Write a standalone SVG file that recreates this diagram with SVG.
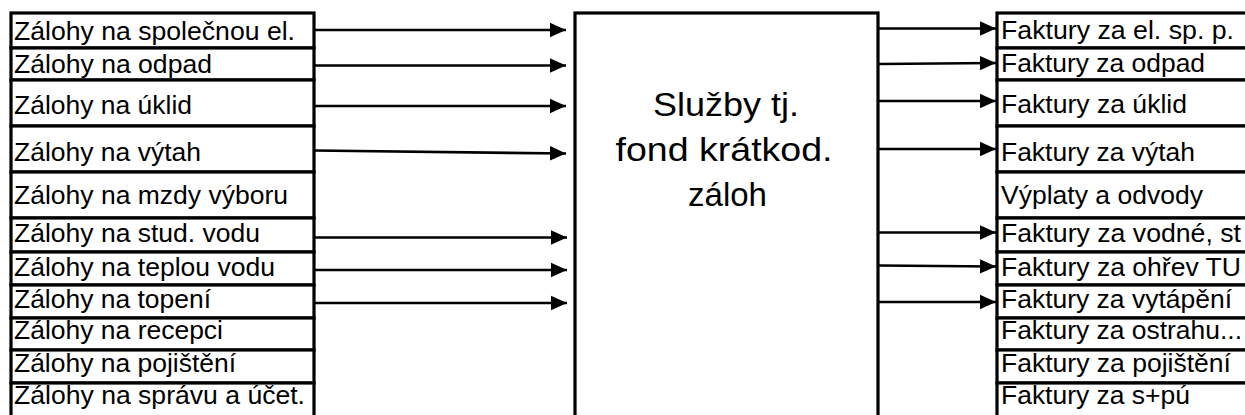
<svg xmlns="http://www.w3.org/2000/svg" width="1245" height="415" viewBox="0 0 1245 415">
<defs>
<style>
.cell{fill:#fff;stroke:#000;stroke-width:3.2}
.t{font-family:"Liberation Sans",Arial,sans-serif;font-size:26px;fill:#000}
.big{font-family:"Liberation Sans",Arial,sans-serif;font-size:34px;fill:#000;text-anchor:middle}
.arr{stroke:#000;stroke-width:2.7;fill:none;marker-end:url(#ah)}
</style>
<marker id="ah" markerUnits="userSpaceOnUse" markerWidth="17" markerHeight="16" viewBox="0 0 17 16" refX="16" refY="8" orient="auto">
<path d="M0,0.8 L16,8 L0,15.2 Z" fill="#000"/>
</marker>
</defs>
<rect width="1245" height="415" fill="#fff"/>
<g id="left">
<g id="l1"><rect class="cell" x="11" y="13" width="303" height="35"/><text class="t" x="14" y="39.5" textLength="281" lengthAdjust="spacingAndGlyphs">Zálohy na společnou el.</text></g>
<g id="l2"><rect class="cell" x="11" y="48" width="303" height="32"/><text class="t" x="14" y="73" textLength="198" lengthAdjust="spacingAndGlyphs">Zálohy na odpad</text></g>
<g id="l3"><rect class="cell" x="11" y="80" width="303" height="46"/><text class="t" x="14" y="113.5" textLength="178" lengthAdjust="spacingAndGlyphs">Zálohy na úklid</text></g>
<g id="l4"><rect class="cell" x="11" y="126" width="303" height="46"/><text class="t" x="14" y="161" textLength="187" lengthAdjust="spacingAndGlyphs">Zálohy na výtah</text></g>
<g id="l5"><rect class="cell" x="11" y="172" width="303" height="46"/><text class="t" x="14" y="203.5" textLength="274" lengthAdjust="spacingAndGlyphs">Zálohy na mzdy výboru</text></g>
<g id="l6"><rect class="cell" x="11" y="218" width="303" height="34"/><text class="t" x="14" y="242" textLength="246" lengthAdjust="spacingAndGlyphs">Zálohy na stud. vodu</text></g>
<g id="l7"><rect class="cell" x="11" y="252" width="303" height="33"/><text class="t" x="14" y="275.5" textLength="261" lengthAdjust="spacingAndGlyphs">Zálohy na teplou vodu</text></g>
<g id="l8"><rect class="cell" x="11" y="285" width="303" height="33"/><text class="t" x="14" y="307.5" textLength="197" lengthAdjust="spacingAndGlyphs">Zálohy na topení</text></g>
<g id="l9"><rect class="cell" x="11" y="318" width="303" height="32"/><text class="t" x="14" y="339" textLength="209" lengthAdjust="spacingAndGlyphs">Zálohy na recepci</text></g>
<g id="l10"><rect class="cell" x="11" y="350" width="303" height="33"/><text class="t" x="14" y="372" textLength="222" lengthAdjust="spacingAndGlyphs">Zálohy na pojištění</text></g>
<g id="l11"><rect class="cell" x="11" y="383" width="303" height="40"/><text class="t" x="14" y="404" textLength="291" lengthAdjust="spacingAndGlyphs">Zálohy na správu a účet.</text></g>
</g>
<g id="center">
<rect class="cell" x="575" y="13" width="303" height="410"/>
<text class="big" x="726" y="116" textLength="146" lengthAdjust="spacingAndGlyphs">Služby tj.</text>
<text class="big" x="724" y="160.5" textLength="217" lengthAdjust="spacingAndGlyphs">fond krátkod.</text>
<text class="big" x="727.5" y="205.5" textLength="79" lengthAdjust="spacingAndGlyphs">záloh</text>
</g>
<g id="right">
<g id="r1"><rect class="cell" x="997" y="13" width="260" height="35"/><text class="t" x="1001" y="38.5" textLength="233" lengthAdjust="spacingAndGlyphs">Faktury za el. sp. p.</text></g>
<g id="r2"><rect class="cell" x="997" y="48" width="260" height="32"/><text class="t" x="1001" y="72" textLength="204" lengthAdjust="spacingAndGlyphs">Faktury za odpad</text></g>
<g id="r3"><rect class="cell" x="997" y="80" width="260" height="46"/><text class="t" x="1001" y="112.5" textLength="186" lengthAdjust="spacingAndGlyphs">Faktury za úklid</text></g>
<g id="r4"><rect class="cell" x="997" y="126" width="260" height="46"/><text class="t" x="1001" y="160.5" textLength="194" lengthAdjust="spacingAndGlyphs">Faktury za výtah</text></g>
<g id="r5"><rect class="cell" x="997" y="172" width="260" height="46"/><text class="t" x="1001" y="203.5" textLength="202" lengthAdjust="spacingAndGlyphs">Výplaty a odvody</text></g>
<g id="r6"><rect class="cell" x="997" y="218" width="260" height="34"/><text class="t" x="1001" y="242" textLength="240" lengthAdjust="spacingAndGlyphs">Faktury za vodné, st</text></g>
<g id="r7"><rect class="cell" x="997" y="252" width="260" height="33"/><text class="t" x="1001" y="275.5" textLength="240" lengthAdjust="spacingAndGlyphs">Faktury za ohřev TU</text></g>
<g id="r8"><rect class="cell" x="997" y="285" width="260" height="33"/><text class="t" x="1001" y="307.5" textLength="231" lengthAdjust="spacingAndGlyphs">Faktury za vytápění</text></g>
<g id="r9"><rect class="cell" x="997" y="318" width="260" height="32"/><text class="t" x="1001" y="339" textLength="241" lengthAdjust="spacingAndGlyphs">Faktury za ostrahu...</text></g>
<g id="r10"><rect class="cell" x="997" y="350" width="260" height="33"/><text class="t" x="1001" y="372" textLength="230" lengthAdjust="spacingAndGlyphs">Faktury za pojištění</text></g>
<g id="r11"><rect class="cell" x="997" y="383" width="260" height="40"/><text class="t" x="1001" y="404" textLength="189" lengthAdjust="spacingAndGlyphs">Faktury za s+pú</text></g>
</g>
<g id="connectors">
<line class="arr" x1="314" y1="30" x2="566" y2="30"/>
<line class="arr" x1="314" y1="65.5" x2="566" y2="65.5"/>
<line class="arr" x1="314" y1="106" x2="566" y2="106"/>
<line class="arr" x1="314" y1="150.5" x2="566" y2="153.5"/>
<line class="arr" x1="314" y1="237.5" x2="567" y2="237.5"/>
<line class="arr" x1="314" y1="270" x2="567" y2="270"/>
<line class="arr" x1="314" y1="303" x2="567" y2="303"/>
<line class="arr" x1="879" y1="28.5" x2="996" y2="28.5"/>
<line class="arr" x1="879" y1="64" x2="996" y2="63"/>
<line class="arr" x1="879" y1="101" x2="996" y2="101"/>
<line class="arr" x1="879" y1="149" x2="996" y2="149"/>
<line class="arr" x1="879" y1="232.5" x2="996" y2="232.5"/>
<line class="arr" x1="879" y1="265.5" x2="996" y2="266.5"/>
<line class="arr" x1="879" y1="302" x2="996" y2="302"/>
</g>
</svg>
